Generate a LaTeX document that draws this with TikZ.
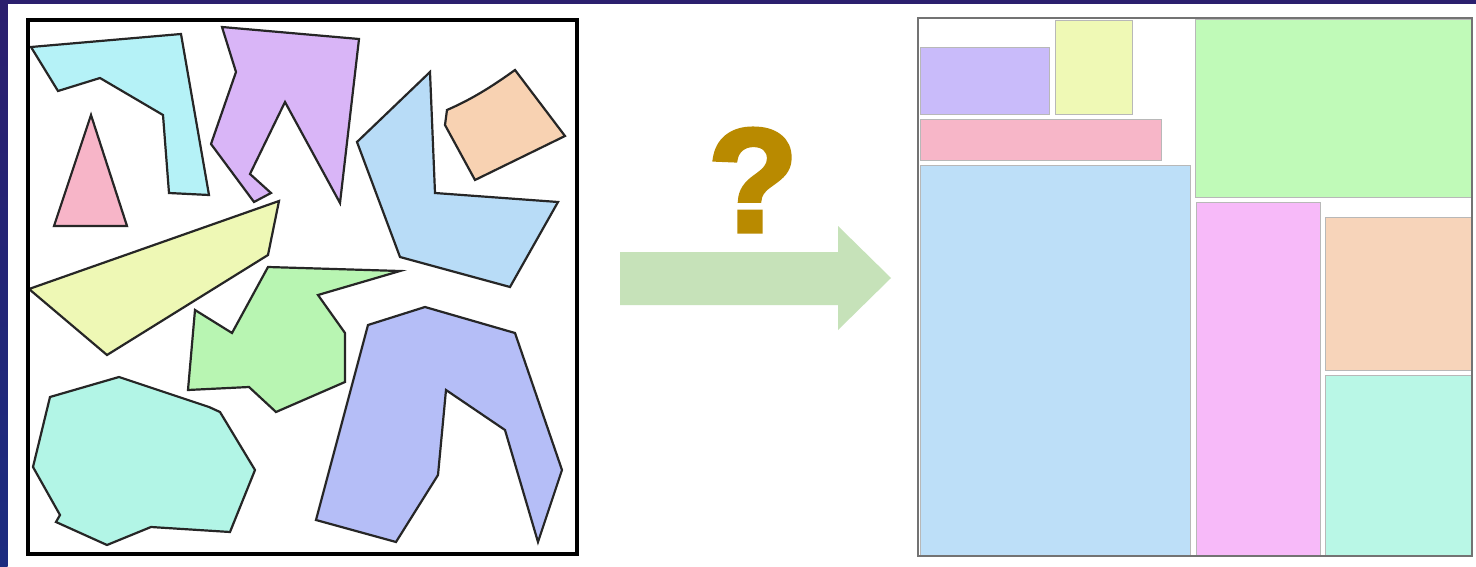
\documentclass[tikz,border=0pt]{standalone}
\usepackage{fontspec}
\setmainfont{Liberation Sans}
\newfontfamily\qfont[FakeBold=3]{Liberation Sans Bold}
\definecolor{navyA}{HTML}{2B1F6E}
\definecolor{navyB}{HTML}{1C2C80}
\definecolor{cCyan}{HTML}{B5F2F7}
\definecolor{cPinkT}{HTML}{F7B5C8}
\definecolor{cViolet}{HTML}{D9B5F7}
\definecolor{cBlueL}{HTML}{B8DCF7}
\definecolor{cPeach}{HTML}{F8D2B2}
\definecolor{cYellow}{HTML}{EEF8B5}
\definecolor{cGreen}{HTML}{B8F5B2}
\definecolor{cMint}{HTML}{B2F5E6}
\definecolor{cPeri}{HTML}{B5BEF7}
\definecolor{rPurple}{HTML}{C9BBFA}
\definecolor{rYellow}{HTML}{EFF9B5}
\definecolor{rPink}{HTML}{F7B6C8}
\definecolor{rBlue}{HTML}{BDDFF8}
\definecolor{rGreen}{HTML}{C0FAB8}
\definecolor{rMagenta}{HTML}{F7BAF9}
\definecolor{rPeach}{HTML}{F7D4BA}
\definecolor{rMint}{HTML}{B9F7E6}
\definecolor{arrowcol}{HTML}{C6E2B9}
\definecolor{qcol}{HTML}{B98A00}
\begin{document}
\begin{tikzpicture}[x=1pt,y=-1pt,
  piece/.style={line width=2.2pt, draw=black!85},
  rectpiece/.style={draw=black!28, line width=0.8pt}]
\useasboundingbox (0,0) rectangle (1476,567);
\fill[white] (0,0) rectangle (1476,567);
\fill[navyA] (0,0) rectangle (1476,4);
\shade[top color=navyA, bottom color=navyB] (0,0) rectangle (7.5,567);

% ---------- left panel: irregular pieces ----------
% cyan hook
\filldraw[piece, fill=cCyan] (31,47) -- (181,34) -- (209,195) -- (169,193) -- (163,115) -- (100,78) -- (58,91) -- cycle;
% pink triangle
\filldraw[piece, fill=cPinkT] (91,115) -- (127,226) -- (54,226) -- cycle;
% violet
\filldraw[piece, fill=cViolet] (222,27) -- (359,39) -- (340,203) -- (285,102) -- (250,174) -- (271,193) -- (254,202) -- (211,144) -- (236,72) -- cycle;
% light blue L
\filldraw[piece, fill=cBlueL] (430,72) -- (435,193) -- (558,202) -- (510,287) -- (400,257) -- (357,142) -- cycle;
% peach quad
\filldraw[piece, fill=cPeach] (515,70) -- (565,136) -- (475,180) -- (445,125) -- (447,110) .. controls (470,100) and (490,88) .. (515,70) -- cycle;
% yellow
\filldraw[piece, fill=cYellow] (29,289) -- (279,201) -- (268,255) -- (107,355) -- cycle;
% green
\filldraw[piece, fill=cGreen] (268,267) -- (400,271) -- (318,295) -- (345,333) -- (345,382) -- (276,412) -- (249,387) -- (188,390) -- (195,310) -- (232,333) -- cycle;
% mint
\filldraw[piece, fill=cMint] (119,377) -- (209,407) -- (220,412) -- (255,470) -- (230,532) -- (151,527) -- (107,545) -- (56,522) -- (60,515) -- (33,467) -- (50,397) -- cycle;
% periwinkle
\filldraw[piece, fill=cPeri] (368,325) -- (425,307) -- (515,333) -- (562,470) -- (538,542) -- (505,430) -- (446,390) -- (438,475) -- (396,542) -- (316,520) -- cycle;
% frame
\draw[line width=3.2pt, black] (28,20) rectangle (577,554);

% ---------- middle: question and arrow ----------
\node[text=qcol, font=\fontsize{147}{147}\selectfont\qfont, inner sep=0pt] (q) at (753,180) {?};
\fill[arrowcol] (620,252) -- (838,252) -- (838,226) -- (891,278) -- (838,330) -- (838,305) -- (620,305) -- cycle;

% ---------- right panel: packed rectangles ----------
\filldraw[rectpiece, fill=rPurple]  (920,47)   rectangle (1049,114);
\filldraw[rectpiece, fill=rYellow]  (1055,20)  rectangle (1132,114);
\filldraw[rectpiece, fill=rPink]    (920,119)  rectangle (1161,160);
\filldraw[rectpiece, fill=rBlue]    (920,165)  rectangle (1190,555);
\filldraw[rectpiece, fill=rGreen]   (1195,19)  rectangle (1471,197);
\filldraw[rectpiece, fill=rMagenta] (1196,202) rectangle (1320,555);
\filldraw[rectpiece, fill=rPeach]   (1325,217) rectangle (1471,370);
\filldraw[rectpiece, fill=rMint]    (1325,375) rectangle (1471,555);
\draw[line width=1.5pt, draw=black!55] (918,18) rectangle (1472,556);
\end{tikzpicture}
\end{document}
